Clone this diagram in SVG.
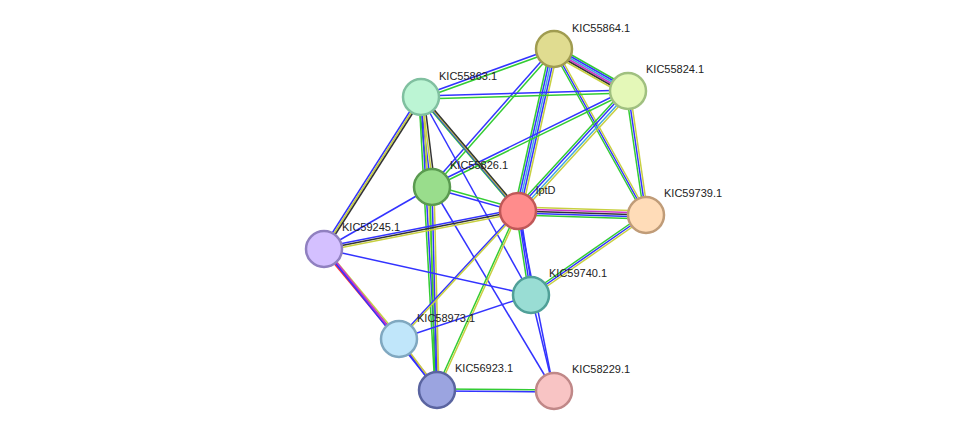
<svg xmlns="http://www.w3.org/2000/svg" width="975" height="436" viewBox="0 0 975 436">
<style>
line{stroke-width:1.5;fill:none}
.g{stroke:#33cc33}.b{stroke:#3333ff}.y{stroke:#c8d040}.k{stroke:#333333}.m{stroke:#cc33cc}.r{stroke:#ff3333}.c{stroke:#44aadd}
.n{stroke-width:2.5}
text{font-family:"Liberation Sans",Arial,sans-serif;font-size:11px;fill:#222}
</style>
<rect width="975" height="436" fill="#fff"/>
<g id="connectors">
<line class="g" x1="554" y1="45" x2="628" y2="87"/><line class="b" x1="554" y1="47" x2="628" y2="89"/><line class="c" x1="554" y1="49" x2="628" y2="91"/><line class="m" x1="554" y1="51" x2="628" y2="93"/><line class="k" x1="554" y1="53" x2="628" y2="95"/><line class="y" x1="554" y1="55" x2="628" y2="97"/>
<line class="b" x1="554" y1="48" x2="421" y2="96"/><line class="g" x1="554" y1="51" x2="421" y2="99"/>
<line class="g" x1="550" y1="49" x2="514" y2="211"/><line class="b" x1="552" y1="49" x2="516" y2="211"/><line class="c" x1="554" y1="49" x2="518" y2="211"/><line class="b" x1="556" y1="49" x2="520" y2="211"/><line class="y" x1="558" y1="49" x2="522" y2="211"/>
<line class="g" x1="552" y1="49" x2="644" y2="215"/><line class="b" x1="554" y1="49" x2="646" y2="215"/><line class="y" x1="556" y1="49" x2="648" y2="215"/>
<line class="b" x1="553" y1="48" x2="431" y2="186"/><line class="g" x1="555" y1="50" x2="433" y2="188"/>
<line class="b" x1="628" y1="90" x2="421" y2="96"/><line class="g" x1="628" y1="93" x2="421" y2="99"/>
<line class="g" x1="625" y1="89" x2="515" y2="209"/><line class="b" x1="627" y1="90" x2="517" y2="210"/><line class="c" x1="629" y1="92" x2="519" y2="212"/><line class="y" x1="631" y1="93" x2="521" y2="213"/>
<line class="g" x1="626" y1="91" x2="644" y2="215"/><line class="b" x1="628" y1="91" x2="646" y2="215"/><line class="y" x1="630" y1="91" x2="648" y2="215"/>
<line class="b" x1="628" y1="89" x2="432" y2="185"/><line class="g" x1="628" y1="92" x2="432" y2="188"/>
<line class="g" x1="418" y1="97" x2="429" y2="187"/><line class="b" x1="420" y1="97" x2="431" y2="187"/><line class="y" x1="422" y1="97" x2="433" y2="187"/><line class="k" x1="424" y1="97" x2="435" y2="187"/>
<line class="g" x1="419" y1="96" x2="516" y2="210"/><line class="b" x1="421" y1="97" x2="518" y2="211"/><line class="y" x1="423" y1="98" x2="520" y2="212"/><line class="k" x1="425" y1="99" x2="522" y2="213"/>
<line class="b" x1="419" y1="97" x2="322" y2="249"/><line class="y" x1="421" y1="97" x2="324" y2="249"/><line class="k" x1="423" y1="97" x2="326" y2="249"/>
<line class="b" x1="421" y1="97" x2="531" y2="295"/>
<line class="g" x1="419" y1="97" x2="435" y2="390"/><line class="b" x1="421" y1="97" x2="437" y2="390"/><line class="y" x1="423" y1="97" x2="439" y2="390"/>
<line class="g" x1="432" y1="185" x2="518" y2="209"/><line class="b" x1="432" y1="188" x2="518" y2="212"/>
<line class="b" x1="432" y1="187" x2="324" y2="249"/>
<line class="g" x1="430" y1="187" x2="435" y2="390"/><line class="b" x1="432" y1="187" x2="437" y2="390"/><line class="y" x1="434" y1="187" x2="439" y2="390"/>
<line class="b" x1="432" y1="187" x2="554" y2="391"/>
<line class="y" x1="518" y1="207" x2="646" y2="211"/><line class="m" x1="518" y1="209" x2="646" y2="213"/><line class="k" x1="518" y1="211" x2="646" y2="215"/><line class="b" x1="518" y1="213" x2="646" y2="217"/><line class="g" x1="518" y1="215" x2="646" y2="219"/>
<line class="b" x1="518" y1="209" x2="324" y2="247"/><line class="k" x1="518" y1="211" x2="324" y2="249"/><line class="y" x1="518" y1="213" x2="324" y2="251"/>
<line class="g" x1="516" y1="211" x2="529" y2="295"/><line class="b" x1="518" y1="211" x2="531" y2="295"/><line class="b" x1="520" y1="211" x2="533" y2="295"/>
<line class="b" x1="517" y1="211" x2="398" y2="339"/><line class="y" x1="519" y1="211" x2="400" y2="339"/>
<line class="g" x1="517" y1="211" x2="436" y2="390"/><line class="y" x1="519" y1="211" x2="438" y2="390"/>
<line class="b" x1="518" y1="211" x2="554" y2="391"/>
<line class="g" x1="644" y1="214" x2="529" y2="294"/><line class="b" x1="646" y1="215" x2="531" y2="295"/><line class="y" x1="648" y1="216" x2="533" y2="296"/>
<line class="b" x1="324" y1="249" x2="531" y2="295"/>
<line class="r" x1="322" y1="249" x2="397" y2="339"/><line class="b" x1="324" y1="249" x2="399" y2="339"/><line class="y" x1="326" y1="249" x2="401" y2="339"/>
<line class="b" x1="324" y1="249" x2="437" y2="390"/><line class="m" x1="326" y1="249" x2="439" y2="390"/>
<line class="b" x1="531" y1="295" x2="399" y2="339"/>
<line class="b" x1="531" y1="295" x2="554" y2="391"/>
<line class="g" x1="437" y1="389" x2="554" y2="390"/><line class="b" x1="437" y1="391" x2="554" y2="392"/>
<line class="b" x1="398" y1="339" x2="436" y2="390"/><line class="y" x1="400" y1="339" x2="438" y2="390"/>
</g>
<g id="KIC55864.1"><circle class="n" cx="554" cy="49" r="18" fill="#e0dc90" stroke="#a09c50"/><text x="572" y="32">KIC55864.1</text></g>
<g id="KIC55824.1"><circle class="n" cx="628" cy="91" r="18" fill="#e4f8b8" stroke="#a0c080"/><text x="646" y="73">KIC55824.1</text></g>
<g id="KIC55863.1"><circle class="n" cx="421" cy="97" r="18" fill="#bcf5d4" stroke="#80c0a0"/><text x="439" y="80">KIC55863.1</text></g>
<g id="KIC55826.1"><circle class="n" cx="432" cy="187" r="18" fill="#99dd8c" stroke="#5a9a50"/><text x="450" y="169">KIC55826.1</text></g>
<g id="lptD"><circle class="n" cx="518" cy="211" r="18" fill="#ff8c8c" stroke="#c05858"/><text x="536" y="194">lptD</text></g>
<g id="KIC59739.1"><circle class="n" cx="646" cy="215" r="18" fill="#ffdcb8" stroke="#c09c78"/><text x="664" y="197">KIC59739.1</text></g>
<g id="KIC59245.1"><circle class="n" cx="324" cy="249" r="18" fill="#d4c0ff" stroke="#9080c0"/><text x="342" y="231">KIC59245.1</text></g>
<g id="KIC59740.1"><circle class="n" cx="531" cy="295" r="18" fill="#99ddd4" stroke="#50a098"/><text x="549" y="277">KIC59740.1</text></g>
<g id="KIC58973.1"><circle class="n" cx="399" cy="339" r="18" fill="#c0e6fa" stroke="#80a8c0"/><text x="417" y="322">KIC58973.1</text></g>
<g id="KIC56923.1"><circle class="n" cx="437" cy="390" r="18" fill="#9ba4e0" stroke="#5a64a0"/><text x="455" y="372">KIC56923.1</text></g>
<g id="KIC58229.1"><circle class="n" cx="554" cy="391" r="18" fill="#f8c4c4" stroke="#c08888"/><text x="572" y="373">KIC58229.1</text></g>
</svg>
